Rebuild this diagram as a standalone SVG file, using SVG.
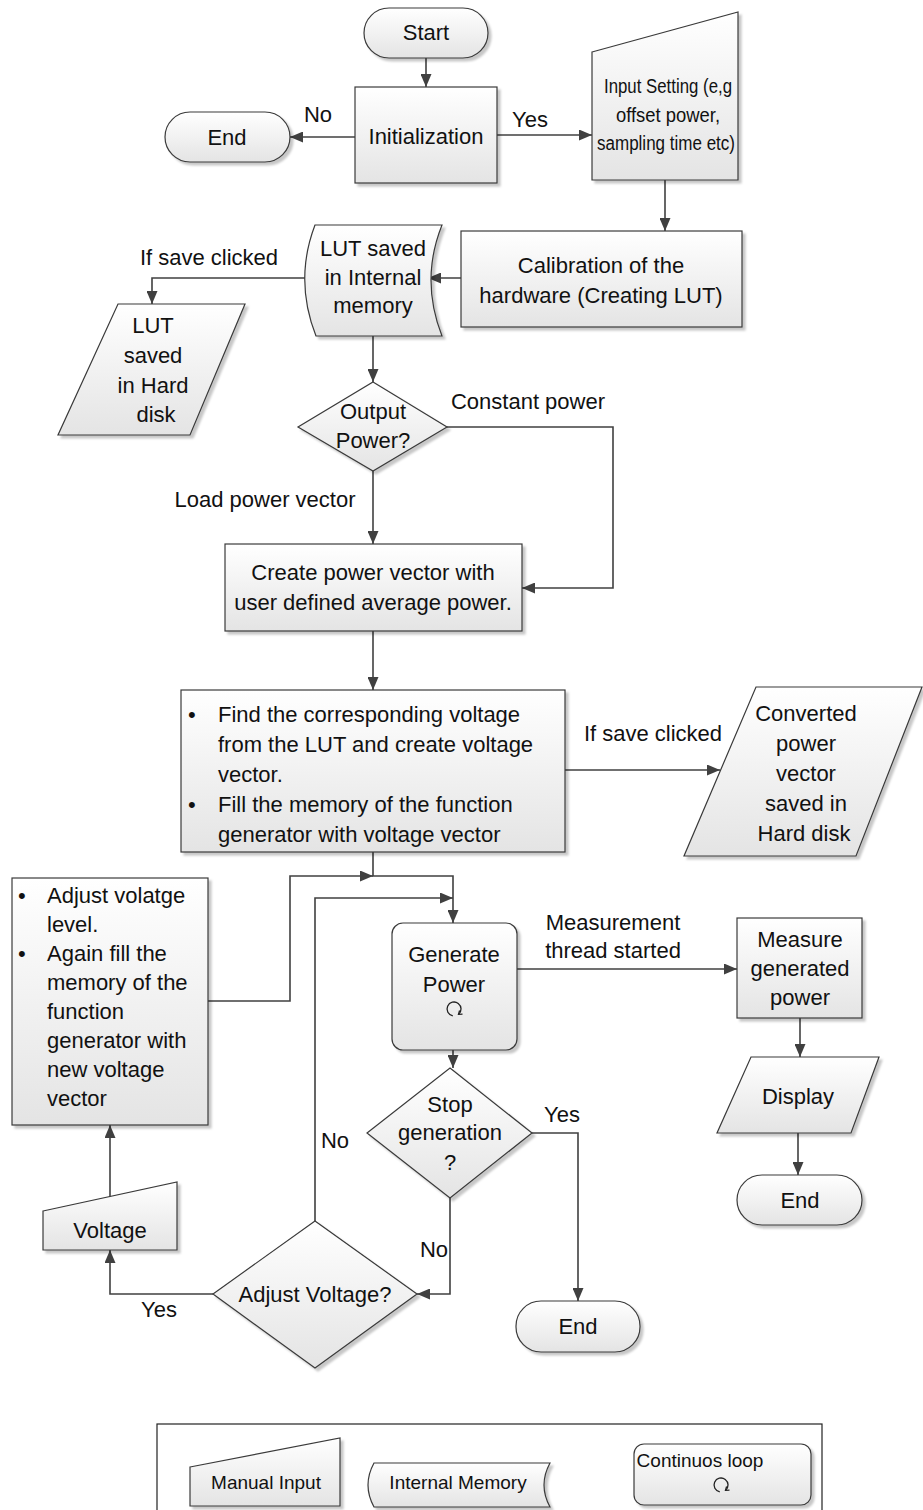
<svg xmlns="http://www.w3.org/2000/svg" width="923" height="1510" viewBox="0 0 923 1510">
<defs>
<linearGradient id="g" x1="0" y1="0" x2="0" y2="1">
<stop offset="0" stop-color="#ffffff"/>
<stop offset="1" stop-color="#e4e4e4"/>
</linearGradient>
<filter id="sh" x="-10%" y="-10%" width="130%" height="130%">
<feDropShadow dx="3" dy="3" stdDeviation="1.2" flood-color="#000" flood-opacity="0.22"/>
</filter>
<marker id="ar" markerUnits="userSpaceOnUse" viewBox="0 0 13 11" markerWidth="13" markerHeight="11" refX="13" refY="5.5" orient="auto">
<path d="M0,0 L13,5.5 L0,11 z" fill="#404040"/>
</marker>
</defs>
<style>
.n{fill:url(#g);stroke:#3a3a3a;stroke-width:1.2;filter:url(#sh)}
.t{font-family:"Liberation Sans",Arial,sans-serif;font-size:22px;fill:#111;text-anchor:middle}
.l{font-family:"Liberation Sans",Arial,sans-serif;font-size:22px;fill:#111;text-anchor:start}
.s{font-family:"Liberation Sans",Arial,sans-serif;font-size:19px;fill:#111;text-anchor:middle}
.m{font-family:"Liberation Sans",Arial,sans-serif;font-size:20px;fill:#111;text-anchor:middle}
.c{fill:none;stroke:#404040;stroke-width:1.6}
.a{marker-end:url(#ar)}
.ic{fill:none;stroke:#222;stroke-width:1.3}
</style>

<g id="connectors">
<path class="c a" d="M426,58 V87"/>
<path class="c a" d="M355,137 H290"/>
<path class="c a" d="M497,135 H592"/>
<path class="c a" d="M665,180 V231"/>
<path class="c a" d="M461,278 H428"/>
<path class="c a" d="M305,278 H152 V304"/>
<path class="c a" d="M373,336 V382"/>
<path class="c a" d="M447,427 H613 V588 H522"/>
<path class="c a" d="M373,471 V544"/>
<path class="c a" d="M373,631 V690"/>
<path class="c a" d="M565,770 H720"/>
<path class="c a" d="M373,852 V876 H453 V923"/>
<path class="c a" d="M208,1001 H290 V876 H373"/>
<path class="c a" d="M315,1221 V898 H453"/>
<path class="c a" d="M517,969 H737"/>
<path class="c a" d="M800,1018 V1057"/>
<path class="c a" d="M798,1133 V1175"/>
<path class="c a" d="M453,1050 V1068"/>
<path class="c a" d="M532,1133 H578 V1301"/>
<path class="c a" d="M450,1198 V1294 H417"/>
<path class="c a" d="M213,1294 H110 V1250"/>
<path class="c a" d="M110,1197 V1125"/>
<text class="t" x="318" y="122">No</text>
<text class="t" x="530" y="127">Yes</text>
<text class="t" x="209" y="265">If save clicked</text>
<text class="t" x="528" y="409">Constant power</text>
<text class="t" x="265" y="507">Load power vector</text>
<text class="t" x="653" y="741">If save clicked</text>
<text class="t" x="613" y="930">Measurement</text>
<text class="t" x="613" y="958">thread started</text>
<text class="t" x="562" y="1122">Yes</text>
<text class="t" x="335" y="1148">No</text>
<text class="t" x="434" y="1257">No</text>
<text class="t" x="159" y="1317">Yes</text>
</g>

<g id="start">
<rect class="n" x="364" y="8" width="124" height="50" rx="25"/>
<text class="t" x="426" y="40">Start</text>
</g>

<g id="init">
<rect class="n" x="355" y="87" width="142" height="96"/>
<text class="t" x="426" y="144">Initialization</text>
</g>

<g id="end1">
<rect class="n" x="165" y="112" width="125" height="50" rx="25"/>
<text class="t" x="227" y="145">End</text>
</g>

<g id="input">
<polygon class="n" points="592,52 738,12 738,180 592,180"/>
<text class="m" x="668" y="93" textLength="128" lengthAdjust="spacingAndGlyphs">Input Setting (e,g</text>
<text class="m" x="668" y="122" textLength="104" lengthAdjust="spacingAndGlyphs">offset power,</text>
<text class="m" x="666" y="150" textLength="138" lengthAdjust="spacingAndGlyphs">sampling time etc)</text>
</g>

<g id="calib">
<rect class="n" x="461" y="231" width="281" height="96"/>
<text class="t" x="601" y="273">Calibration of the</text>
<text class="t" x="601" y="303">hardware (Creating LUT)</text>
</g>

<g id="lutmem">
<path class="n" d="M315,225 H442 Q420,280 442,336 H316 Q294,280 315,225 Z"/>
<text class="t" x="373" y="256">LUT saved</text>
<text class="t" x="373" y="285">in Internal</text>
<text class="t" x="373" y="313">memory</text>
</g>

<g id="luthd">
<polygon class="n" points="118,304 245,304 190,435 58,435"/>
<text class="t" x="153" y="333">LUT</text>
<text class="t" x="153" y="363">saved</text>
<text class="t" x="153" y="393">in Hard</text>
<text class="t" x="156" y="422">disk</text>
</g>

<g id="outpower">
<polygon class="n" points="373,382 447,427 373,471 298,427"/>
<text class="t" x="373" y="419">Output</text>
<text class="t" x="373" y="448">Power?</text>
</g>

<g id="create">
<rect class="n" x="225" y="544" width="297" height="87"/>
<text class="t" x="373" y="580">Create power vector with</text>
<text class="t" x="373" y="610">user defined average power.</text>
</g>

<g id="find">
<rect class="n" x="181" y="690" width="384" height="162"/>
<text class="l" x="188" y="722">•</text>
<text class="l" x="218" y="722">Find the corresponding voltage</text>
<text class="l" x="218" y="752">from the LUT and create voltage</text>
<text class="l" x="218" y="782">vector.</text>
<text class="l" x="188" y="812">•</text>
<text class="l" x="218" y="812">Fill the memory of the function</text>
<text class="l" x="218" y="842">generator with voltage vector</text>
</g>

<g id="converted">
<polygon class="n" points="756,687 922,687 856,856 684,856"/>
<text class="t" x="806" y="721">Converted</text>
<text class="t" x="806" y="751">power</text>
<text class="t" x="806" y="781">vector</text>
<text class="t" x="806" y="811">saved in</text>
<text class="t" x="804" y="841">Hard disk</text>
</g>

<g id="adjustbox">
<rect class="n" x="12" y="878" width="196" height="247"/>
<text class="l" x="18" y="903">•</text>
<text class="l" x="47" y="903">Adjust volatge</text>
<text class="l" x="47" y="932">level.</text>
<text class="l" x="18" y="961">•</text>
<text class="l" x="47" y="961">Again fill the</text>
<text class="l" x="47" y="990">memory of the</text>
<text class="l" x="47" y="1019">function</text>
<text class="l" x="47" y="1048">generator with</text>
<text class="l" x="47" y="1077">new voltage</text>
<text class="l" x="47" y="1106">vector</text>
</g>

<g id="generate">
<rect class="n" x="392" y="923" width="125" height="127" rx="11"/>
<text class="t" x="454" y="962">Generate</text>
<text class="t" x="454" y="992">Power</text>
<path class="ic" d="M452.8,1015.9 A7,7 0 1,1 458.5,1014.4"/>
<path class="ic" d="M462.5,1014.1 L458.5,1014.4 L459.6,1010.5"/>
</g>

<g id="measure">
<rect class="n" x="737" y="918" width="125" height="100"/>
<text class="t" x="800" y="947">Measure</text>
<text class="t" x="800" y="976">generated</text>
<text class="t" x="800" y="1005">power</text>
</g>

<g id="display">
<polygon class="n" points="751,1057 879,1057 851,1133 717,1133"/>
<text class="t" x="798" y="1104">Display</text>
</g>

<g id="end3">
<rect class="n" x="737" y="1175" width="125" height="50" rx="25"/>
<text class="t" x="800" y="1208">End</text>
</g>

<g id="stop">
<polygon class="n" points="450,1068 532,1133 450,1198 367,1133"/>
<text class="t" x="450" y="1112">Stop</text>
<text class="t" x="450" y="1140">generation</text>
<text class="t" x="450" y="1170">?</text>
</g>

<g id="end2">
<rect class="n" x="516" y="1301" width="124" height="51" rx="25"/>
<text class="t" x="578" y="1334">End</text>
</g>

<g id="voltage">
<polygon class="n" points="43,1211 177,1182 177,1250 43,1250"/>
<text class="t" x="110" y="1238">Voltage</text>
</g>

<g id="adjust">
<polygon class="n" points="315,1221 417,1294 315,1368 213,1294"/>
<text class="t" x="315" y="1302">Adjust Voltage?</text>
</g>

<g id="legend">
<rect x="157" y="1424" width="665" height="100" fill="#fff" stroke="#222" stroke-width="1.2"/>
<polygon class="n" points="190,1467 340,1438 340,1506 190,1506"/>
<text class="s" x="266" y="1489">Manual Input</text>
<path class="n" d="M374,1463 H550 Q538,1485 550,1507 H374 Q362,1485 374,1463 Z"/>
<text class="s" x="458" y="1489">Internal Memory</text>
<rect class="n" x="634" y="1444" width="177" height="61" rx="10"/>
<text class="s" x="700" y="1467">Continuos loop</text>
<path class="ic" d="M719.8,1491.9 A7,7 0 1,1 725.5,1490.4"/>
<path class="ic" d="M729.5,1490.1 L725.5,1490.4 L726.6,1486.5"/>
</g>
</svg>
